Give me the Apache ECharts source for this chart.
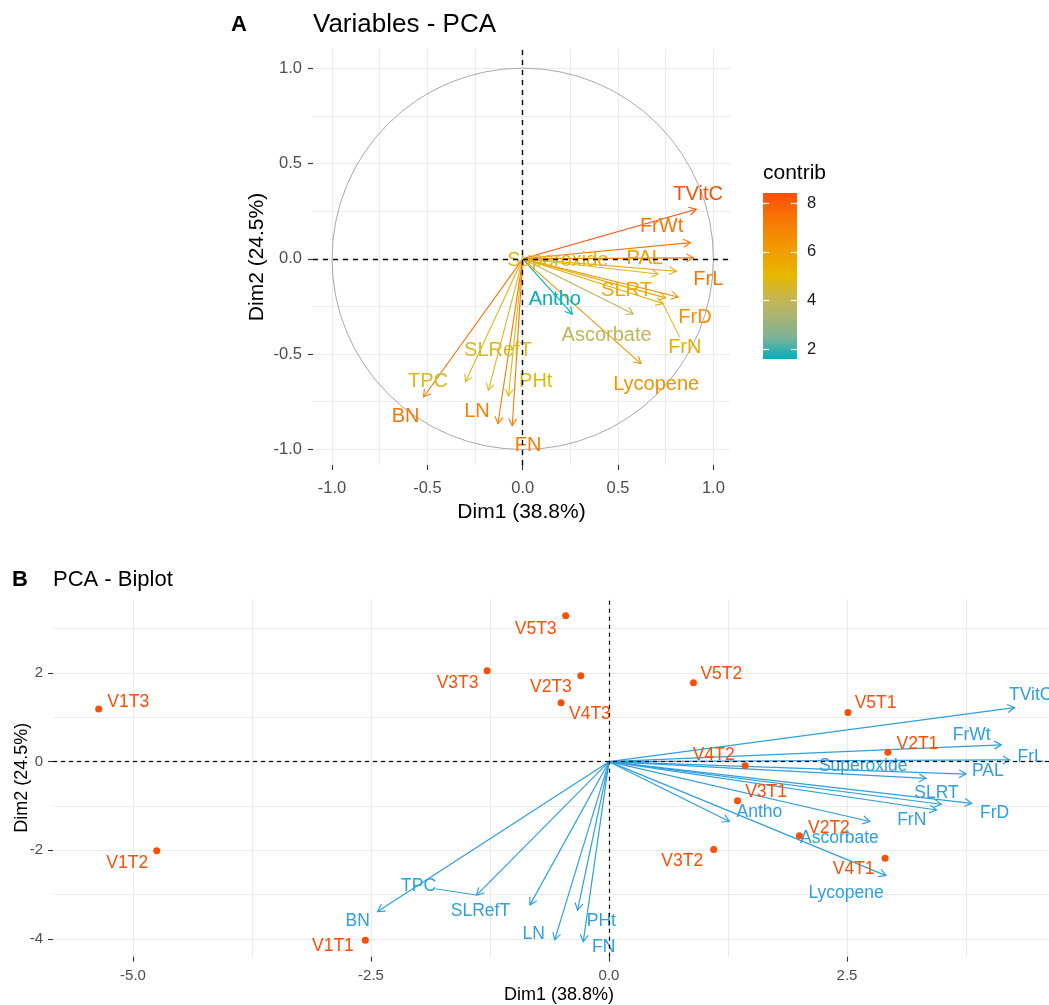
<!DOCTYPE html>
<html>
<head>
<meta charset="utf-8">
<script src="https://cdn.jsdelivr.net/npm/echarts@6/dist/echarts.min.js"></script>
<style>
  html, body { margin: 0; padding: 0; background: #fff; }
  #chart { width: 1049px; height: 1005px; }
</style>
</head>
<body>
<div id="chart"></div>
<script>
// ---- panel A: variables on Dim1 / Dim2, coloured by contribution ----
const varNames = ['TVitC', 'FrWt', 'FrL', 'PAL', 'Superoxide', 'SLRT', 'FrD', 'FrN', 'Antho',
  'Ascorbate', 'Lycopene', 'BN', 'TPC', 'SLRefT', 'PHt', 'LN', 'FN'];
const varDim1 = [0.91, 0.88, 0.895, 0.805, 0.71, 0.75, 0.815, 0.735, 0.26, 0.58, 0.62, -0.52, -0.30, -0.18, -0.075, -0.13, -0.055];
const varDim2 = [0.26, 0.085, 0.005, -0.065, -0.08, -0.205, -0.20, -0.235, -0.29, -0.29, -0.55, -0.725, -0.645, -0.69, -0.72, -0.865, -0.875];
const varContrib = [8.4, 7.3, 7.45, 6.05, 4.75, 5.6, 6.55, 5.5, 1.6, 3.9, 6.4, 7.4, 4.7, 4.7, 4.85, 7.1, 7.15];
// label anchors after repel (Dim units)
const varLabelX = [0.92, 0.728, 0.973, 0.64, 0.184, 0.544, 0.903, 0.85, 0.168, 0.44, 0.70, -0.614, -0.497, -0.13, 0.068, -0.24, 0.028];
const varLabelY = [0.335, 0.168, -0.108, 0.0, -0.01, -0.164, -0.307, -0.465, -0.216, -0.40, -0.662, -0.825, -0.645, -0.479, -0.645, -0.80, -0.977];
const varLeaders = ['FrN'];
const circleRadius = 1;

// ---- panel B: biplot ----
const bipDim1 = [4.26, 4.12, 4.21, 3.75, 3.33, 3.49, 3.81, 3.44, 1.265, 2.74, 2.91, -2.43, -1.39, -0.83, -0.33, -0.57, -0.27];
const bipDim2 = [1.22, 0.38, 0.04, -0.28, -0.375, -0.96, -0.94, -1.09, -1.35, -1.35, -2.57, -3.38, -3.01, -3.23, -3.35, -4.02, -4.06];
const bipLabelX = [4.43, 3.81, 4.43, 3.98, 2.67, 3.44, 4.05, 3.18, 1.58, 2.42, 2.49, -2.64, -2.0, -1.35, -0.08, -0.79, -0.056];
const bipLabelY = [1.5, 0.60, 0.11, -0.21, -0.11, -0.71, -1.16, -1.33, -1.13, -1.73, -2.96, -3.59, -2.81, -3.37, -3.59, -3.89, -4.19];
const bipLeaders = ['TPC'];

const indNames = ['V1T1', 'V1T2', 'V1T3', 'V2T1', 'V2T2', 'V2T3', 'V3T1', 'V3T2', 'V3T3',
  'V4T1', 'V4T2', 'V4T3', 'V5T1', 'V5T2', 'V5T3'];
const indDim1 = [-2.56, -4.75, -5.36, 2.93, 2.0, -0.296, 1.35, 1.10, -1.28, 2.90, 1.43, -0.503, 2.51, 0.887, -0.455];
const indDim2 = [-4.03, -2.01, 1.19, 0.21, -1.67, 1.94, -0.88, -1.98, 2.05, -2.18, -0.09, 1.33, 1.11, 1.78, 3.29];
const indLabelX = [-2.90, -5.06, -5.05, 3.24, 2.31, -0.61, 1.65, 0.77, -1.59, 2.57, 1.10, -0.20, 2.80, 1.18, -0.77];
const indLabelY = [-4.17, -2.29, 1.35, 0.40, -1.50, 1.69, -0.68, -2.24, 1.78, -2.43, 0.15, 1.08, 1.33, 1.98, 3.0];

// ---- axes ----
const aTicks = [-1, -0.5, 0, 0.5, 1];
const aGrid = [-1, -0.75, -0.5, -0.25, 0, 0.25, 0.5, 0.75, 1];
const bTicksX = [-5, -2.5, 0, 2.5];
const bGridX = [-5, -3.75, -2.5, -1.25, 0, 1.25, 2.5, 3.75];
const bTicksY = [-4, -2, 0, 2];
const bGridY = [-4, -3, -2, -1, 0, 1, 2, 3];
const contribTicks = [2, 4, 6, 8];
const contribRange = [1.59, 8.42];

// teal -> yellow -> orange, stepped the way ggplot's Lab ramp blends them
const contribColors = ['#00AFBB', '#7BB298', '#A8B474', '#C9B64C', '#E7B800', '#EEA200', '#F48A01', '#F86F04', '#FC4E07'];
const varColorB = '#2E9FDF';
const indColor = '#FC4E07';
const FONT = '"Liberation Sans", Arial, Helvetica, sans-serif';
const AXIS_TXT = '#4D4D4D';
const GRID_COL = '#EBEBEB';

const chart = echarts.init(document.getElementById('chart'));

function arrowRender(lineWidth, headLen, fixedColor) {
  return function (params, api) {
    const o = api.coord([0, 0]);
    const p = api.coord([api.value(0), api.value(1)]);
    const a = Math.atan2(p[1] - o[1], p[0] - o[0]);
    const h = Math.PI / 6;
    const color = fixedColor || api.visual('color');
    const st = () => ({ stroke: color, lineWidth: lineWidth, fill: 'none' });
    return {
      type: 'group',
      children: [
        { type: 'line', shape: { x1: o[0], y1: o[1], x2: p[0], y2: p[1] }, style: st() },
        { type: 'polyline', shape: { points: [
          [p[0] - headLen * Math.cos(a - h), p[1] - headLen * Math.sin(a - h)],
          [p[0], p[1]],
          [p[0] - headLen * Math.cos(a + h), p[1] - headLen * Math.sin(a + h)]
        ] }, style: st() }
      ]
    };
  };
}

function labelRender(names, tipX, tipY, leaders, fontSize, fixedColor) {
  return function (params, api) {
    const i = params.dataIndex;
    const name = names[i];
    const color = fixedColor || api.visual('color');
    const q = api.coord([api.value(0), api.value(1)]);
    const children = [];
    if (leaders && leaders.indexOf(name) >= 0) {
      const t = api.coord([tipX[i], tipY[i]]);
      const dx = q[0] - t[0], dy = q[1] - t[1];
      const hw = name.length * fontSize * 0.29 + 2, hh = fontSize * 0.45 + 1;
      const s = Math.min(hw / Math.max(Math.abs(dx), 1e-6), hh / Math.max(Math.abs(dy), 1e-6));
      children.push({ type: 'line', shape: { x1: t[0], y1: t[1], x2: q[0] - dx * s, y2: q[1] - dy * s },
        style: { stroke: color, lineWidth: 1 } });
    }
    children.push({ type: 'text', x: q[0], y: q[1], style: {
      text: name, fill: color, font: fontSize + 'px ' + FONT,
      align: 'center', verticalAlign: 'middle', textAlign: 'center', textVerticalAlign: 'middle' } });
    return { type: 'group', children: children };
  };
}

function gridAxis(gridIndex, min, max, gridVals, opts) {
  return Object.assign({
    type: 'value', gridIndex: gridIndex, min: min, max: max,
    axisLine: { show: false, onZero: false },
    axisTick: { show: false, customValues: gridVals },
    splitLine: { show: true, lineStyle: { color: GRID_COL, width: 1.2 } },
    nameLocation: 'middle', nameMoveOverlap: false
  }, opts);
}
function tickAxis(gridIndex, min, max, tickVals, position) {
  return {
    type: 'value', gridIndex: gridIndex, min: min, max: max, position: position,
    axisLine: { show: false, onZero: false },
    axisTick: { show: true, customValues: tickVals, length: 5, lineStyle: { color: '#333', width: 1.1 } },
    axisLabel: { show: false }, splitLine: { show: false }
  };
}
function tickLabels(vals, fmt, size, margin) {
  return { customValues: vals, formatter: fmt, color: AXIS_TXT, fontFamily: FONT, fontSize: size, margin: margin };
}
const nameStyle = size => ({ color: '#000', fontFamily: FONT, fontSize: size });

const fmt1 = v => v.toFixed(1);
const fmt0 = v => v.toFixed(0);

const xAxis = [
  gridAxis(0, -1.10, 1.087, aGrid, { position: 'bottom', name: 'Dim1 (38.8%)', nameGap: 37,
    axisLabel: tickLabels(aTicks, fmt1, 16.5, 15), nameTextStyle: nameStyle(21) }),
  tickAxis(0, -1.10, 1.087, aTicks, 'bottom'),
  gridAxis(1, -5.84, 4.79, bGridX, { position: 'bottom', name: 'Dim1 (38.8%)', nameGap: 29,
    axisLabel: tickLabels(bTicksX, fmt1, 15, 12), nameTextStyle: nameStyle(18) }),
  tickAxis(1, -5.84, 4.79, bTicksX, 'bottom'),
  { type: 'value', gridIndex: 2, min: 0, max: 1, show: false }
];
const yAxis = [
  gridAxis(0, -1.082, 1.101, aGrid, { position: 'left', name: 'Dim2 (24.5%)', nameGap: 45,
    axisLabel: tickLabels(aTicks, fmt1, 16.5, 11), nameTextStyle: nameStyle(21) }),
  tickAxis(0, -1.082, 1.101, aTicks, 'left'),
  gridAxis(1, -4.40, 3.67, bGridY, { position: 'left', name: 'Dim2 (24.5%)', nameGap: 22,
    axisLabel: tickLabels(bTicksY, fmt0, 15, 10), nameTextStyle: nameStyle(18) }),
  tickAxis(1, -4.40, 3.67, bTicksY, 'left'),
  { type: 'value', gridIndex: 2, position: 'right', min: contribRange[0], max: contribRange[1], z: 10,
    axisLine: { show: false, onZero: false }, splitLine: { show: false },
    axisTick: { show: true, inside: true, length: 6, customValues: contribTicks, lineStyle: { color: '#fff', width: 1.2 } },
    axisLabel: { customValues: contribTicks, margin: 10, color: '#1A1A1A', fontSize: 16.5, fontFamily: FONT } },
  { type: 'value', gridIndex: 2, position: 'left', min: contribRange[0], max: contribRange[1], z: 10,
    axisLine: { show: false, onZero: false }, splitLine: { show: false },
    axisTick: { show: true, inside: true, length: 6, customValues: contribTicks, lineStyle: { color: '#fff', width: 1.2 } },
    axisLabel: { show: false } }
];

const zeroLines = (w, dash) => ({
  silent: true, symbol: ['none', 'none'], label: { show: false },
  lineStyle: { color: '#000', width: w, type: dash },
  data: [{ xAxis: 0 }, { yAxis: 0 }]
});

const titleText = (x, y, text, font) => ({
  type: 'text', x: x, y: y,
  style: { text: text, font: font, fill: '#000', verticalAlign: 'middle', textVerticalAlign: 'middle' }
});

const option = {
  animation: false,
  backgroundColor: '#fff',
  grid: [
    { left: 313, top: 49, width: 417, height: 416, outerBoundsMode: 'none', containLabel: false },
    { left: 53, top: 599, width: 1012, height: 357.7, outerBoundsMode: 'none', containLabel: false },
    { left: 763, top: 193, width: 34, height: 166, outerBoundsMode: 'none', containLabel: false }
  ],
  xAxis: xAxis,
  yAxis: yAxis,
  visualMap: {
    type: 'continuous', show: false, min: contribRange[0], max: contribRange[1],
    dimension: 2, seriesIndex: [1, 2], inRange: { color: contribColors }
  },
  graphic: [
    titleText(231, 25, 'A', 'bold 22px ' + FONT),
    titleText(313, 25, 'Variables - PCA', '26px ' + FONT),
    titleText(12, 580, 'B', 'bold 22px ' + FONT),
    titleText(53, 580, 'PCA - Biplot', '22px ' + FONT),
    titleText(763, 173, 'contrib', '21px ' + FONT)
  ],
  series: [
    // 0: correlation circle
    { type: 'custom', xAxisIndex: 0, yAxisIndex: 0, z: 1, silent: true,
      data: [[0, 0, circleRadius]],
      renderItem: function (params, api) {
        const c = api.coord([api.value(0), api.value(1)]);
        const r = api.size([api.value(2), 0])[0];
        return { type: 'circle', shape: { cx: c[0], cy: c[1], r: r }, style: { fill: 'none', stroke: '#A8A8A8', lineWidth: 1 } };
      } },
    // 1: variable arrows (A)
    { type: 'custom', xAxisIndex: 0, yAxisIndex: 0, z: 2, silent: true,
      data: varNames.map((n, i) => [varDim1[i], varDim2[i], varContrib[i]]),
      renderItem: arrowRender(1.1, 8) },
    // 2: variable labels (A)
    { type: 'custom', xAxisIndex: 0, yAxisIndex: 0, z: 4, silent: true,
      data: varNames.map((n, i) => [varLabelX[i], varLabelY[i], varContrib[i]]),
      renderItem: labelRender(varNames, varDim1, varDim2, varLeaders, 20) },
    // 3: zero lines (A)
    { type: 'scatter', xAxisIndex: 0, yAxisIndex: 0, z: 3, symbolSize: 0, silent: true,
      data: [[0, 0]], markLine: zeroLines(1.4, [5, 5]) },
    // 4: variable arrows (B)
    { type: 'custom', xAxisIndex: 2, yAxisIndex: 2, z: 2, silent: true,
      data: varNames.map((n, i) => [bipDim1[i], bipDim2[i]]),
      renderItem: arrowRender(1.2, 8, varColorB) },
    // 5: individuals (B)
    { type: 'scatter', xAxisIndex: 2, yAxisIndex: 2, z: 3, symbolSize: 7, silent: true,
      itemStyle: { color: indColor, opacity: 1 },
      data: indNames.map((n, i) => [indDim1[i], indDim2[i]]),
      markLine: zeroLines(1.2, [4, 4]) },
    // 6: individual labels (B)
    { type: 'custom', xAxisIndex: 2, yAxisIndex: 2, z: 4, silent: true,
      data: indNames.map((n, i) => [indLabelX[i], indLabelY[i]]),
      renderItem: labelRender(indNames, indDim1, indDim2, [], 17.5, indColor) },
    // 7: variable labels (B)
    { type: 'custom', xAxisIndex: 2, yAxisIndex: 2, z: 4, silent: true,
      data: varNames.map((n, i) => [bipLabelX[i], bipLabelY[i]]),
      renderItem: labelRender(varNames, bipDim1, bipDim2, bipLeaders, 17.5, varColorB) },
    // 8: colour bar for contrib
    { type: 'custom', xAxisIndex: 4, yAxisIndex: 4, z: 2, silent: true,
      encode: { x: [0, 2], y: [1, 3] },
      data: [[0, contribRange[0], 1, contribRange[1]]],
      renderItem: function (params, api) {
        const bl = api.coord([api.value(0), api.value(1)]);
        const tr = api.coord([api.value(2), api.value(3)]);
        const stops = contribColors.map((c, k) => ({ offset: k / (contribColors.length - 1), color: c }));
        return { type: 'rect', shape: { x: bl[0], y: tr[1], width: tr[0] - bl[0], height: bl[1] - tr[1] },
          style: { fill: new echarts.graphic.LinearGradient(0, 1, 0, 0, stops) } };
      } }
  ]
};

chart.setOption(option);
</script>
</body>
</html>
